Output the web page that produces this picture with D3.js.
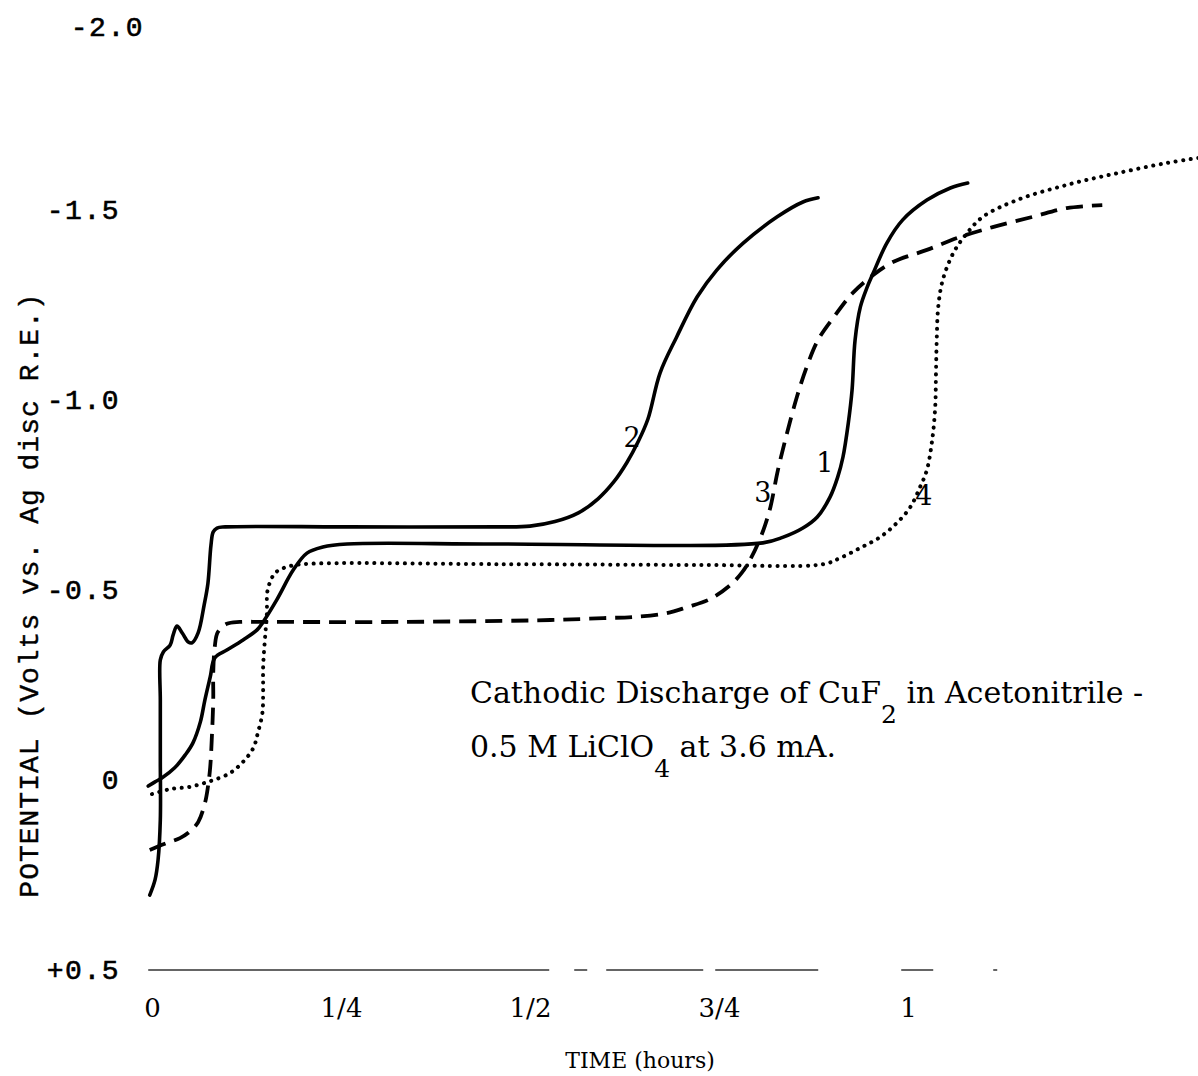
<!DOCTYPE html>
<html><head><meta charset="utf-8">
<script src="https://cdn.jsdelivr.net/npm/d3@7"></script>
<style>html,body{margin:0;padding:0;background:#fff;} svg{display:block;}</style>
</head><body>
<svg id="chart" width="1198" height="1076"></svg>
<script>
// ---- data ----
const yTickValues = [-2.0, -1.5, -1.0, -0.5, 0, 0.5];
const yTickLabels = ["-2.0", "-1.5", "-1.0", "-0.5", "0", "+0.5"];
const xTickValues = [0, 0.25, 0.5, 0.75, 1];
const xTickLabels = ["0", "1/4", "1/2", "3/4", "1"];

const curve1Time = [-0.005,0.004,0.013,0.030,0.044,0.054,0.064,0.070,0.077,0.083,0.099,0.120,0.139,0.147,0.165,0.187,0.205,0.226,0.258,0.460,0.808,0.835,0.861,0.880,0.897,0.907,0.914,0.921,0.926,0.930,0.937,0.946,0.954,0.972,0.993,1.025,1.056,1.079];
const curve1Potential = [0.016,0.005,-0.005,-0.032,-0.066,-0.097,-0.153,-0.211,-0.271,-0.321,-0.342,-0.368,-0.395,-0.416,-0.474,-0.553,-0.597,-0.613,-0.621,-0.621,-0.624,-0.639,-0.663,-0.692,-0.745,-0.797,-0.850,-0.939,-1.026,-1.158,-1.245,-1.297,-1.334,-1.413,-1.474,-1.526,-1.558,-1.571];

const curve2Time = [-0.003,0.004,0.008,0.011,0.011,0.011,0.011,0.015,0.024,0.028,0.033,0.040,0.048,0.053,0.061,0.069,0.074,0.078,0.081,0.086,0.097,0.262,0.460,0.500,0.533,0.564,0.590,0.611,0.628,0.643,0.656,0.672,0.694,0.721,0.747,0.782,0.827,0.861,0.881];
const curve2Potential = [0.303,0.263,0.211,0.105,-0.053,-0.211,-0.316,-0.337,-0.355,-0.382,-0.405,-0.387,-0.363,-0.361,-0.387,-0.461,-0.518,-0.618,-0.653,-0.663,-0.666,-0.666,-0.666,-0.668,-0.680,-0.703,-0.740,-0.785,-0.835,-0.890,-0.950,-1.071,-1.166,-1.271,-1.342,-1.413,-1.482,-1.521,-1.532];

const curve3Time = [-0.003,0.017,0.037,0.048,0.061,0.070,0.074,0.077,0.079,0.081,0.081,0.083,0.087,0.099,0.116,0.147,0.328,0.527,0.597,0.636,0.681,0.708,0.738,0.765,0.780,0.791,0.802,0.811,0.818,0.828,0.840,0.853,0.866,0.881,0.901,0.927,0.954,0.980,1.025,1.069,1.112,1.165,1.210,1.257];
const curve3Potential = [0.184,0.168,0.153,0.139,0.111,0.061,0.018,-0.034,-0.105,-0.211,-0.282,-0.350,-0.389,-0.411,-0.416,-0.416,-0.416,-0.421,-0.426,-0.429,-0.439,-0.455,-0.476,-0.513,-0.545,-0.579,-0.624,-0.671,-0.718,-0.816,-0.913,-1.008,-1.087,-1.158,-1.216,-1.282,-1.329,-1.363,-1.395,-1.429,-1.455,-1.482,-1.505,-1.513];

const curve4Time = [0.000,0.024,0.050,0.077,0.103,0.120,0.134,0.140,0.146,0.147,0.147,0.150,0.152,0.153,0.163,0.179,0.200,0.460,0.725,0.888,0.910,0.937,0.963,0.985,1.003,1.016,1.025,1.032,1.036,1.037,1.038,1.040,1.046,1.060,1.078,1.099,1.144,1.210,1.277,1.343,1.384];
const curve4Potential = [0.037,0.024,0.018,0.003,-0.018,-0.047,-0.084,-0.124,-0.176,-0.237,-0.297,-0.387,-0.439,-0.500,-0.545,-0.561,-0.568,-0.568,-0.566,-0.568,-0.584,-0.611,-0.639,-0.676,-0.718,-0.771,-0.816,-0.895,-0.982,-1.071,-1.158,-1.245,-1.316,-1.387,-1.439,-1.482,-1.526,-1.566,-1.597,-1.624,-1.637];

const curveNames = ["1", "2", "3", "4"];
const curveLabelTime = [0.890, 0.635, 0.808, 1.021];
const curveLabelPotential = [-0.837, -0.903, -0.758, -0.750];

const titleLine1 = ["Cathodic Discharge of CuF", "2", " in Acetonitrile -"];
const titleLine2 = ["0.5 M LiClO", "4", " at 3.6 mA."];
const titleAnchor = [0.4206, -0.2026, -0.0605]; // time, potential of line 1, line 2

// ---- scales ----
const svg = d3.select("#chart");
svg.append("rect").attr("width", 1198).attr("height", 1076).attr("fill", "#fff");
const x = d3.scaleLinear().domain([0, 1]).range([152, 908]);
const y = d3.scaleLinear().domain([0.5, -2.0]).range([970, 20]);

// baseline (broken scanned line at +0.5)
svg.append("line")
  .attr("x1", x(-0.005)).attr("x2", x(1.17))
  .attr("y1", y(0.5)).attr("y2", y(0.5))
  .attr("stroke", "#333").attr("stroke-width", 1.6)
  .attr("stroke-dasharray", "401 25 13 19 97 12 103 83 32 60 4 40 4");

// y axis
const yAxis = d3.axisLeft(y).tickValues(yTickValues).tickSize(0).tickPadding(0)
  .tickFormat((d, i) => yTickLabels[i]);
const gy = svg.append("g").attr("transform", "translate(120,0)").call(yAxis);
gy.select(".domain").remove();
gy.selectAll("text").attr("font-family", "'Liberation Mono', monospace")
  .attr("font-size", 28).attr("fill", "#000").attr("stroke", "#000").attr("stroke-width", 0.6)
  .attr("letter-spacing", 1.5);
gy.selectAll(".tick").filter(d => d === -2.0).select("text").attr("dx", 24).attr("dy", "0.55em");

// x axis
const xAxis = d3.axisBottom(x).tickValues(xTickValues).tickSize(0).tickPadding(29)
  .tickFormat((d, i) => xTickLabels[i]);
const gx = svg.append("g").attr("transform", `translate(0,${y(0.5)})`).call(xAxis);
gx.select(".domain").remove();
gx.selectAll("text").attr("font-family", "'DejaVu Serif', serif")
  .attr("font-size", 26).attr("fill", "#000");

// axis titles
svg.append("text").attr("x", 640).attr("y", 1068).attr("text-anchor", "middle")
  .attr("font-family", "'DejaVu Serif', serif").attr("font-size", 22).text("TIME (hours)");
svg.append("text").attr("transform", "translate(38,595) rotate(-90)").attr("text-anchor", "middle")
  .attr("font-family", "'Liberation Mono', monospace").attr("font-size", 28).attr("letter-spacing", 1)
  .attr("stroke", "#000").attr("stroke-width", 0.4)
  .text("POTENTIAL (Volts vs. Ag disc R.E.)");

// curves
const line = d3.line().x(d => x(d[0])).y(d => y(d[1])).curve(d3.curveCatmullRom.alpha(0.5));
const curves = [
  { t: curve1Time, v: curve1Potential, dash: null, w: 3.6, cap: "round" },
  { t: curve2Time, v: curve2Potential, dash: null, w: 3.6, cap: "round" },
  { t: curve3Time, v: curve3Potential, dash: "17 9", w: 3.8, cap: "butt" },
  { t: curve4Time, v: curve4Potential, dash: "0.1 7.5", w: 4, cap: "round" }
];
curves.forEach(c => {
  svg.append("path")
    .datum(c.t.map((t, i) => [t, c.v[i]]))
    .attr("d", line)
    .attr("fill", "none").attr("stroke", "#000")
    .attr("stroke-width", c.w)
    .attr("stroke-linecap", c.cap).attr("stroke-linejoin", "round")
    .attr("stroke-dasharray", c.dash);
});

// curve labels
svg.selectAll("text.clabel").data(curveNames).enter().append("text")
  .attr("class", "clabel")
  .attr("x", (d, i) => x(curveLabelTime[i]))
  .attr("y", (d, i) => y(curveLabelPotential[i]))
  .attr("dy", "0.36em").attr("text-anchor", "middle")
  .attr("font-family", "'DejaVu Serif', serif").attr("font-size", 27)
  .text(d => d);

// annotation
function annot(parts, pot) {
  const t = svg.append("text").attr("x", x(titleAnchor[0])).attr("y", y(pot))
    .attr("font-family", "'DejaVu Serif', serif").attr("font-size", 30).attr("fill", "#000");
  t.append("tspan").text(parts[0]);
  t.append("tspan").attr("dy", 20).attr("font-size", 25).text(parts[1]);
  t.append("tspan").attr("dy", -20).text(parts[2]);
}
annot(titleLine1, titleAnchor[1]);
annot(titleLine2, titleAnchor[2]);
</script>
</body></html>
